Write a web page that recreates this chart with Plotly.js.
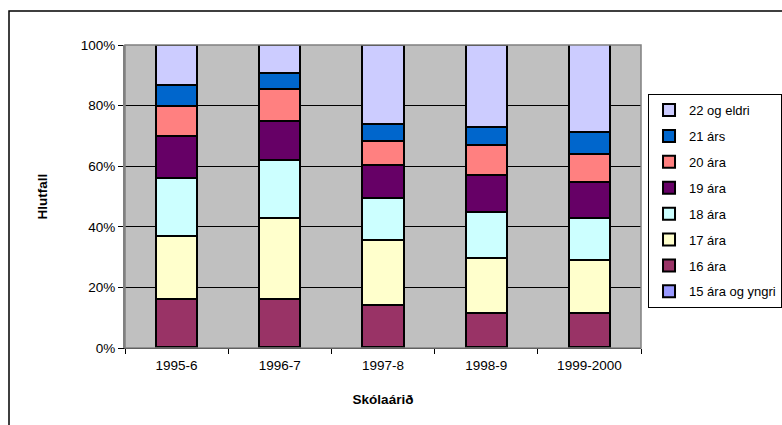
<!DOCTYPE html>
<html>
<head>
<meta charset="utf-8">
<script src="https://cdn.plot.ly/plotly-3.0.1.min.js"></script>
<style>
  html, body { margin: 0; padding: 0; background: #fff; }
  #chart { width: 782px; height: 425px; }
</style>
</head>
<body>
<div id="chart"></div>
<script>
// Hlutfall nemenda eftir aldri, skólaárin 1995-6 til 1999-2000
const years = ["1995-6", "1996-7", "1997-8", "1998-9", "1999-2000"];

const age15 = [0.3, 0.3, 0.3, 0.3, 0.3];
const age16 = [15.8, 15.8, 13.9, 11.1, 11.3];
const age17 = [20.9, 26.8, 21.4, 18.4, 17.3];
const age18 = [19.0, 19.2, 13.9, 15.1, 14.1];
const age19 = [14.0, 12.9, 11.0, 12.3, 11.7];
const age20 = [9.9, 10.4, 7.7, 9.7, 9.2];
const age21 = [7.0, 5.3, 5.7, 6.2, 7.4];
const age22 = [13.1, 9.3, 26.1, 26.9, 29.0];

const seriesNames = ["15 ára og yngri", "16 ára", "17 ára", "18 ára", "19 ára", "20 ára", "21 árs", "22 og eldri"];
const seriesValues = [age15, age16, age17, age18, age19, age20, age21, age22];
const seriesColors = ["#9999FF", "#993366", "#FFFFCC", "#CCFFFF", "#660066", "#FF8080", "#0066CC", "#CCCCFF"];

const FONT = "Arial, 'Liberation Sans', sans-serif";
const FS = 13.5;

// legend lists the top of the stack first, so the rank runs backwards
const traces = seriesNames.map((name, i) => ({
  type: "bar",
  name,
  legendgroup: "g" + i,
  legendrank: 1000 - i,
  x: years,
  y: seriesValues[i],
  width: 0.4,
  marker: { color: seriesColors[i], line: { color: "#000", width: 2 } },
  hoverinfo: "name+y",
}));

const layout = {
  width: 782,
  height: 425,
  paper_bgcolor: "#fff",
  plot_bgcolor: "#C0C0C0",
  font: { family: FONT, size: FS, color: "#000" },
  margin: { l: 125, r: 141, t: 45, b: 77, autoexpand: false },
  barmode: "stack",
  showlegend: true,
  legend: {
    traceorder: "grouped",
    x: 1.0136, xanchor: "left",
    y: 0.838, yanchor: "top",
    bgcolor: "#fff",
    bordercolor: "#000",
    borderwidth: 1,
    font: { family: FONT, size: 13, color: "#000" },
    itemwidth: 30,
    tracegroupgap: 6,
  },
  xaxis: {
    type: "category",
    tickson: "boundaries",
    ticks: "outside",
    ticklen: 5,
    tickcolor: "#000",
    ticklabelstandoff: 5,
    showline: true,
    linecolor: "#000",
    linewidth: 1,
    showgrid: false,
    tickfont: { family: FONT, size: FS },
    title: { text: "Skólaárið", font: { family: FONT, size: FS, weight: "bold" }, standoff: 22 },
  },
  yaxis: {
    range: [0, 100],
    tickvals: [0, 20, 40, 60, 80, 100],
    ticktext: ["0%", "20%", "40%", "60%", "80%", "100%"],
    ticks: "outside",
    ticklen: 5,
    tickcolor: "#000",
    showline: true,
    linecolor: "#808080",
    linewidth: 2,
    showgrid: true,
    gridcolor: "#000",
    gridwidth: 1,
    zeroline: false,
    tickfont: { family: FONT, size: FS },
    title: { text: "Hlutfall", font: { family: FONT, size: FS, weight: "bold" }, standoff: 30 },
  },
  shapes: [
    // grey frame around the plot area
    { type: "rect", xref: "paper", yref: "paper", x0: 0, x1: 1, y0: 0, y1: 1,
      line: { color: "#808080", width: 1.5 }, layer: "above" },
    // outer chart border (runs off the right and bottom edges)
    { type: "rect", xref: "paper", yref: "paper", x0: -0.2248, x1: 1.5, y0: -0.5, y1: 1.112,
      line: { color: "#000", width: 1.5 }, layer: "below" },
  ],
};

Plotly.newPlot("chart", traces, layout, { displayModeBar: false, staticPlot: true });
</script>
</body>
</html>
